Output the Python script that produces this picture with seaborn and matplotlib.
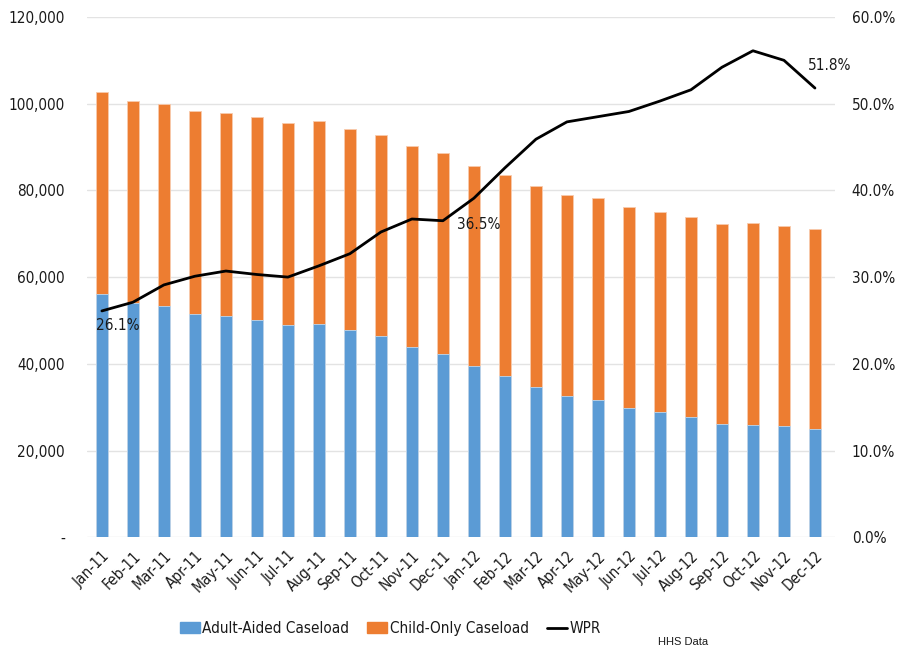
import numpy as np
import pandas as pd
import seaborn as sns
import matplotlib.pyplot as plt
from matplotlib.patches import Patch
from matplotlib.lines import Line2D

# data
months = ["Jan-11", "Feb-11", "Mar-11", "Apr-11", "May-11", "Jun-11",
          "Jul-11", "Aug-11", "Sep-11", "Oct-11", "Nov-11", "Dec-11",
          "Jan-12", "Feb-12", "Mar-12", "Apr-12", "May-12", "Jun-12",
          "Jul-12", "Aug-12", "Sep-12", "Oct-12", "Nov-12", "Dec-12"]
adult_aided = [56100, 54100, 53300, 51500, 51100, 50200, 49000, 49200, 47800, 46400, 43900, 42200,
               39500, 37200, 34700, 32600, 31700, 29900, 28900, 27700, 26100, 25900, 25700, 25000]
total_caseload = [102600, 100600, 99900, 98300, 97800, 96900, 95500, 95900, 94200, 92800, 90200, 88600,
                  85600, 83500, 81000, 78900, 78200, 76200, 75000, 73900, 72200, 72500, 71800, 71100]
child_only = [t - a for t, a in zip(total_caseload, adult_aided)]
wpr = [26.1, 27.1, 29.1, 30.1, 30.7, 30.3, 30.0, 31.3, 32.7, 35.2, 36.7, 36.5,
       39.1, 42.6, 45.9, 47.9, 48.5, 49.1, 50.3, 51.6, 54.2, 56.1, 55.0, 51.8]
labelled = {0: "26.1%", 11: "36.5%", 23: "51.8%"}

df = pd.DataFrame({"month": months, "adult": adult_aided,
                   "child": child_only, "total": total_caseload, "wpr": wpr})

sns.set_style("white")
plt.rcParams["font.family"] = ["DejaVu Sans"]
plt.rcParams["font.stretch"] = "condensed"
plt.rcParams["text.color"] = "#1a1a1a"
plt.rcParams["xtick.color"] = "#1a1a1a"
plt.rcParams["ytick.color"] = "#1a1a1a"

blue = "#5B9BD5"
orange = "#ED7D31"

fig, ax = plt.subplots(figsize=(8.97, 6.52), dpi=100)
fig.subplots_adjust(left=0.097, right=0.931, bottom=0.176, top=0.974)

# stacked bars: draw total in orange, then adult part in blue over it
sns.barplot(data=df, x="month", y="total", color=orange, width=0.41,
            saturation=1, edgecolor="#F8CBAD", linewidth=0.6, ax=ax)
sns.barplot(data=df, x="month", y="adult", color=blue, width=0.41,
            saturation=1, edgecolor="#BDD7EE", linewidth=0.6, ax=ax)

ax.set_ylim(0, 120000)
ax.set_xlim(-0.48, 23.65)
ax.set_yticks(range(0, 120001, 20000))
ax.set_yticklabels(["-" if v == 0 else f"{v:,}" for v in range(0, 120001, 20000)], fontsize=11)
ax.set_xticks(range(len(months)))
ax.set_xticklabels(months, rotation=45, ha="right", rotation_mode="anchor", fontsize=11)
ax.tick_params(axis="y", length=0, pad=16)
ax.tick_params(axis="x", length=0, pad=8)
ax.yaxis.grid(True, color="#E3E3E3", linewidth=1)
ax.set_axisbelow(True)
ax.set_xlabel("")
ax.set_ylabel("")
for s in ax.spines.values():
    s.set_visible(False)

# WPR line on the right axis
ax2 = ax.twinx()
sns.lineplot(x=np.arange(len(months)), y=df["wpr"], color="black", linewidth=2, ax=ax2)
ax2.set_ylim(0, 60)
ax2.set_yticks(range(0, 61, 10))
ax2.set_yticklabels([f"{v:.1f}%" for v in range(0, 61, 10)], fontsize=11)
ax2.tick_params(axis="y", length=0, pad=12)
ax2.set_ylabel("")
for s in ax2.spines.values():
    s.set_visible(False)

ax2.annotate(labelled[0], (0, wpr[0]), xytext=(-4, -5), textcoords="offset points",
             ha="left", va="top", fontsize=11)
ax2.annotate(labelled[11], (11, wpr[11]), xytext=(10, 3), textcoords="offset points",
             ha="left", va="top", fontsize=11)
ax2.annotate(labelled[23], (23, wpr[23]), xytext=(-5, 11), textcoords="offset points",
             ha="left", va="bottom", fontsize=11)

handles = [Patch(color=blue, label="Adult-Aided Caseload"),
           Patch(color=orange, label="Child-Only Caseload"),
           Line2D([], [], color="black", linewidth=2, label="WPR")]
fig.legend(handles=handles, loc="center", bbox_to_anchor=(0.435, 0.036), ncol=3,
           frameon=False, fontsize=11, handlelength=1.3, handleheight=0.7,
           columnspacing=1.2, handletextpad=0.15)
fig.text(0.789, 0.016, "HHS Data", ha="right", va="center", fontsize=8,
         family=["Liberation Sans", "DejaVu Sans"], stretch="normal")

fig.savefig("out.png", dpi=100)
